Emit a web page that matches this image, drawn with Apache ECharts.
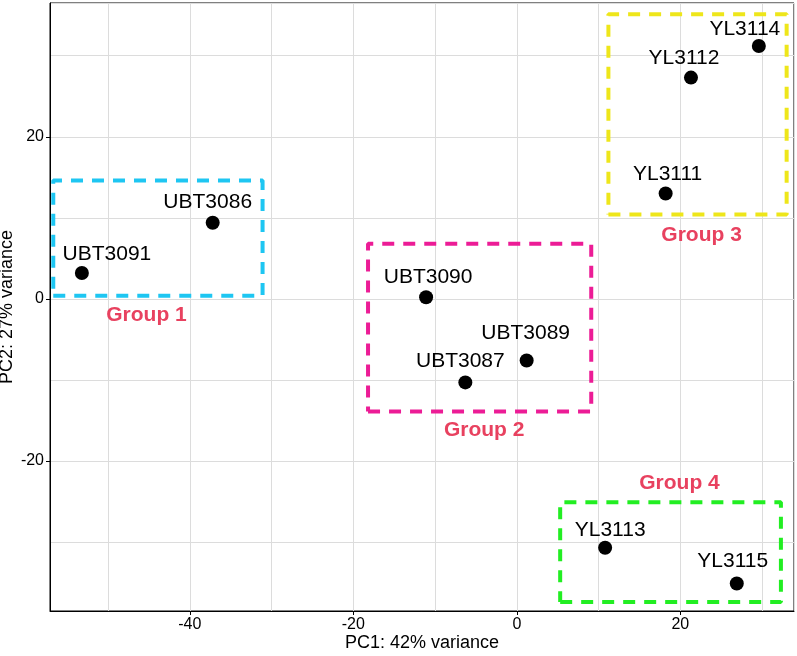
<!DOCTYPE html>
<html>
<head>
<meta charset="utf-8">
<script src="https://cdn.jsdelivr.net/npm/echarts@6/dist/echarts.min.js"></script>
<style>
html,body{margin:0;padding:0;background:#fff;}
#chart{width:797px;height:656px;}
</style>
</head>
<body>
<div id="chart"></div>
<script>
// ---- data ----
const samples = ['UBT3091','UBT3086','UBT3090','UBT3089','UBT3087','YL3114','YL3112','YL3111','YL3113','YL3115'];
const pc1 = [-53.2, -37.2, -11.1, 1.2, -6.3, 29.6, 21.3, 18.2, 10.8, 26.9];
const pc2 = [3.2, 9.4, 0.2, -7.6, -10.3, 31.2, 27.3, 13.0, -30.7, -35.1];

const groupNames = ['Group 1', 'Group 2', 'Group 3', 'Group 4'];
const boxLeft   = [-56.7, -18.2, 11.2, 5.3];
const boxRight  = [-31.1, 9.1, 33.0, 32.3];
const boxBottom = [0.4, -13.9, 10.4, -37.4];
const boxTop    = [14.6, 6.8, 35.1, -25.1];
const groupLabelX = [-45.3, -4.0, 22.6, 19.9];
const groupLabelY = [-2.0, -16.2, 7.9, -22.7];

const xTicks = [-40, -20, 0, 20];
const yTicks = [-20, 0, 20];
const xRange = [-57.1, 33.9];
const yRange = [-38.5, 36.5];

// ---- styles ----
const boxColors = ['#1EC6F2', '#EC1C96', '#EEE61A', '#22EE22'];
const labelOffsets = [[25,-19],[-5,-20],[2,-20],[-1,-27],[-5,-21],[-14,-17],[-7,-19],[2,-19],[5,-18],[-4,-22]];
const FONT = 'Liberation Sans, Arial, Helvetica, sans-serif';

const chart = echarts.init(document.getElementById('chart'), null, {renderer: 'canvas'});

const series = [];
groupNames.forEach((g, i) => {
  series.push({
    type: 'line',
    silent: true,
    symbol: 'none',
    animation: false,
    z: 2,
    data: [
      [boxLeft[i], boxBottom[i]],
      [boxRight[i], boxBottom[i]],
      [boxRight[i], boxTop[i]],
      [boxLeft[i], boxTop[i]],
      [boxLeft[i], boxBottom[i]]
    ],
    lineStyle: { color: boxColors[i], width: 4, type: [12, 9], opacity: 1 }
  });
});
series.push({
  type: 'scatter',
  silent: true,
  animation: false,
  symbolSize: 0,
  z: 3,
  itemStyle: { opacity: 1 },
  data: groupNames.map((g, i) => ({ name: g, value: [groupLabelX[i], groupLabelY[i]] })),
  label: {
    show: true, position: 'inside', formatter: '{b}',
    fontFamily: FONT, fontSize: 21, fontWeight: 'bold', color: '#E8415F', opacity: 1
  }
});
series.push({
  type: 'scatter',
  animation: false,
  symbol: 'circle',
  symbolSize: 14,
  z: 4,
  itemStyle: { color: '#000', opacity: 1 },
  data: samples.map((s, i) => ({
    name: s, value: [pc1[i], pc2[i]],
    label: { offset: labelOffsets[i] }
  })),
  label: {
    show: true, position: 'inside', formatter: '{b}',
    fontFamily: FONT, fontSize: 21, color: '#000', opacity: 1
  }
});

const gridLine = { show: true, lineStyle: { color: '#DCDCDC', width: 1 } };

chart.setOption({
  animation: false,
  backgroundColor: '#fff',
  grid: { left: 50, right: 3, top: 3, bottom: 45, containLabel: false, outerBoundsMode: 'none',
          show: true, borderColor: '#000', borderWidth: 1, backgroundColor: 'transparent' },
  xAxis: [
    { type: 'value', min: xRange[0], max: xRange[1], splitNumber: 9,
      axisLine: { show: false }, axisTick: { show: false }, axisLabel: { show: false },
      splitLine: gridLine },
    { type: 'value', min: xRange[0], max: xRange[1], position: 'bottom',
      axisLine: { show: true, onZero: false, lineStyle: { color: '#000', width: 1 } },
      axisTick: { show: true, length: 4, customValues: xTicks, lineStyle: { color: '#000' } },
      axisLabel: { show: true, customValues: xTicks, fontFamily: FONT, fontSize: 16, color: '#000', margin: 6 },
      splitLine: { show: false },
      name: 'PC1: 42% variance', nameLocation: 'middle', nameGap: 23, nameMoveOverlap: false,
      nameTextStyle: { fontFamily: FONT, fontSize: 18, color: '#000' } }
  ],
  yAxis: [
    { type: 'value', min: yRange[0], max: yRange[1], splitNumber: 8,
      axisLine: { show: false }, axisTick: { show: false }, axisLabel: { show: false },
      splitLine: gridLine },
    { type: 'value', min: yRange[0], max: yRange[1], position: 'left',
      axisLine: { show: true, onZero: false, lineStyle: { color: '#000', width: 1 } },
      axisTick: { show: true, length: 4, customValues: yTicks, lineStyle: { color: '#000' } },
      axisLabel: { show: true, customValues: yTicks, fontFamily: FONT, fontSize: 16, color: '#000', margin: 6 },
      splitLine: { show: false },
      name: 'PC2: 27% variance', nameLocation: 'middle', nameGap: 34, nameRotate: 90, nameMoveOverlap: false,
      nameTextStyle: { fontFamily: FONT, fontSize: 18, color: '#000' } }
  ],
  series: series
});
</script>
</body>
</html>
